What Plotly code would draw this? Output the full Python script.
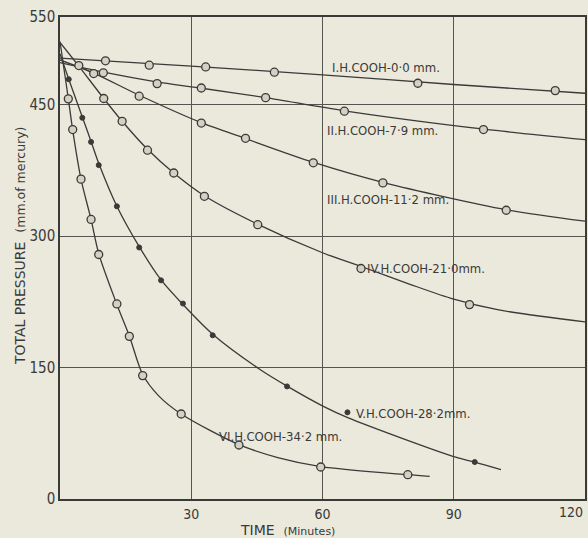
import plotly.graph_objects as go

# ---- data ----
# Observed points (time in minutes, total pressure in mm Hg)
t_I = [10.4, 20.4, 33.3, 49, 81.8, 113.2]
p_I = [500, 495, 493, 487, 474.4, 466]
t_II = [9.9, 22.2, 32.3, 47, 65, 96.8]
p_II = [486.3, 474, 469, 458, 442.5, 421.6]
t_III = [7.7, 18.1, 32.3, 42.4, 57.9, 73.8, 102]
p_III = [485.5, 459.6, 429, 411.6, 383.6, 360.7, 329.5]
t_IV = [4.3, 10, 14.2, 20, 26, 33, 45.2, 68.8, 93.6]
p_IV = [494.6, 457, 431, 398, 372, 345.4, 313, 263, 221.8]
t_V = [2, 5.1, 7.1, 8.85, 13, 18.1, 23.1, 28.1, 34.9, 51.9, 65.7, 94.8]
p_V = [479, 435, 407.5, 381, 334, 287, 249.5, 223, 186.8, 128.5, 98.9, 42.2]
t_VI = [1.9, 2.9, 4.8, 7.1, 8.85, 13, 15.85, 18.9, 27.7, 40.9, 59.6, 79.5]
p_VI = [456.6, 421.6, 365, 319, 279, 222.6, 185.6, 140.8, 97, 61.6, 36.5, 27.7]

# Smooth drawn curves
ct_I = [0, 30, 60, 90, 120]
cp_I = [503, 494, 484, 473, 463]
ct_II = [0, 10, 22, 32, 47, 65, 97, 120]
cp_II = [498, 487, 476, 469, 458, 443, 422, 410]
ct_III = [0, 7.7, 18, 32, 42, 58, 74, 102, 120]
cp_III = [501, 486, 461, 430, 412, 384, 361, 330, 317]
ct_IV = [0, 4.3, 10, 14.2, 20, 26, 33, 45, 60, 69, 80, 90, 100, 120]
cp_IV = [521, 494, 457, 431, 399, 372, 346, 314, 281, 265, 245, 228, 216, 202]
ct_V = [0, 2, 5.1, 7.1, 8.85, 13, 18.1, 23.1, 28.1, 34.9, 45.8, 52, 60.2, 65.9, 89.8, 94.8, 100.8]
cp_V = [508, 479, 436, 408, 383, 334, 288, 250, 222, 188, 147.5, 128.5, 105.7, 92.5, 48.6, 42, 33.4]
ct_VI = [0, 1.9, 2.9, 4.8, 7.1, 8.85, 13, 15.85, 18.9, 22.5, 27.7, 40.9, 50, 59.6, 79.5, 84.5]
cp_VI = [522, 457, 421, 365, 319, 280, 222, 186, 142, 118, 97, 62, 47, 37, 27.7, 25.8]

labels = ["I.H.COOH-0·0 mm.", "II.H.COOH-7·9 mm.", "III.H.COOH-11·2 mm.",
          "IV.H.COOH-21·0mm.", "V.H.COOH-28·2mm.", "VI.H.COOH-34·2 mm."]
label_t = [61.7, 60.5, 60.5, 69.6, 67.2, 35.8]
label_p = [492, 420, 341.7, 263.5, 97.4, 71.5]

x_ticks = [30, 60, 90, 120]
y_ticks = [0, 150, 300, 450, 550]

# ---- styling ----
BG = "#ebe8dc"
INK = "#3a3a38"
FONT = "Liberation Sans Narrow, DejaVu Sans Condensed, Arial Narrow, sans-serif"
WIDE = "DejaVu Sans, sans-serif"

fig = go.Figure()
curves = [(ct_I, cp_I), (ct_II, cp_II), (ct_III, cp_III), (ct_IV, cp_IV), (ct_V, cp_V), (ct_VI, cp_VI)]
points = [(t_I, p_I), (t_II, p_II), (t_III, p_III), (t_IV, p_IV), (t_V, p_V), (t_VI, p_VI)]

for ct, cp in curves:
    fig.add_trace(go.Scatter(x=ct, y=cp, mode="lines", line=dict(color=INK, width=1.3, shape="spline", smoothing=0.8),
                             hoverinfo="skip", showlegend=False))
for i, (t, p) in enumerate(points):
    if i == 4:
        mk = dict(symbol="circle", size=5, color=INK, line=dict(color=INK, width=1))
    else:
        mk = dict(symbol="circle", size=8, color="#d4d1c4", line=dict(color=INK, width=1.3))
    fig.add_trace(go.Scatter(x=t, y=p, mode="markers", marker=mk, showlegend=False))

for txt, lt, lp in zip(labels, label_t, label_p):
    fig.add_annotation(x=lt, y=lp, text=txt, showarrow=False, xanchor="left", yanchor="middle",
                       font=dict(family=FONT, size=13, color=INK))

# last x tick label sits flush against the right edge
fig.add_annotation(xref="x", yref="paper", x=x_ticks[-1], y=0, yshift=-3, text=str(x_ticks[-1]),
                   showarrow=False, xanchor="right", yanchor="top",
                   font=dict(family=FONT, size=14, color=INK))

# axis titles
fig.add_annotation(xref="paper", yref="paper", x=-0.076, y=0.525, xanchor="center", yanchor="middle",
                   textangle=-90,
                   text="TOTAL PRESSURE  <span style='font-size:12.5px'>(mm.of mercury)</span>",
                   showarrow=False, font=dict(family=WIDE, size=14, color=INK))
fig.add_annotation(xref="paper", yref="paper", x=0.434, y=-0.064, xanchor="center", yanchor="middle",
                   text="TIME  <span style='font-size:11px'>(Minutes)</span>",
                   showarrow=False, font=dict(family=WIDE, size=14, color=INK))

fig.update_layout(
    width=588, height=538,
    margin=dict(l=60, r=3, t=17, b=39, autoexpand=False),
    paper_bgcolor=BG, plot_bgcolor=BG,
    font=dict(family=FONT, color=INK, size=14),
    xaxis=dict(range=[0, 120], tickvals=x_ticks[:-1], ticktext=[str(v) for v in x_ticks[:-1]],
               showgrid=True, gridcolor="#55544f", gridwidth=1, zeroline=False, automargin=False,
               showline=True, linecolor=INK, linewidth=1.5, mirror=True, ticks="", ticklabelstandoff=1,
               tickfont=dict(family=FONT, size=14, color=INK)),
    yaxis=dict(range=[0, 550], tickvals=y_ticks, ticktext=[str(v) for v in y_ticks],
               showgrid=True, gridcolor="#55544f", gridwidth=1, zeroline=False, automargin=False,
               showline=True, linecolor=INK, linewidth=1.5, mirror=True, ticks="",
               tickfont=dict(family=FONT, size=15, color=INK)),
)

fig.write_html("out.html", config={"displayModeBar": False})

# remove the browser's default page margin so the figure sits at the window's corner
with open("out.html", encoding="utf-8") as f:
    html = f.read()
html = html.replace("<head>", "<head><style>html,body{margin:0;padding:0;background:%s;}</style>" % BG, 1)
with open("out.html", "w", encoding="utf-8") as f:
    f.write(html)
